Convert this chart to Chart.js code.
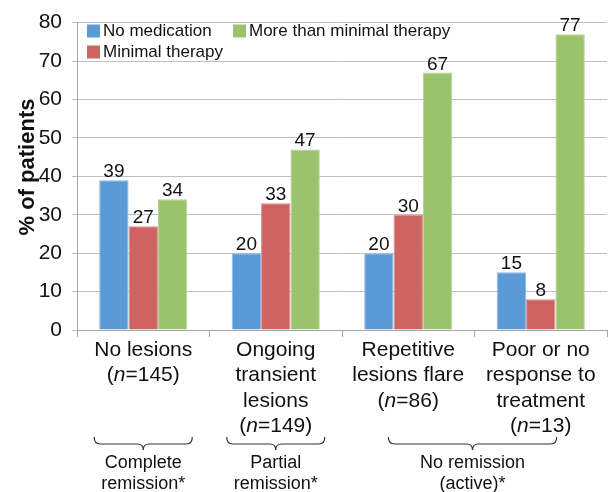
<!DOCTYPE html>
<html>
<head>
<meta charset="utf-8">
<script src="https://cdn.jsdelivr.net/npm/chart.js@4.4.0/dist/chart.umd.min.js"></script>
<style>
  html, body { margin: 0; padding: 0; background: #fff; }
  #wrap { width: 608px; height: 492px; }
</style>
</head>
<body>
<div id="wrap"><canvas id="barChart" width="608" height="492"></canvas></div>
<script>
// ---- data ----
var categories = [
  ["No lesions", "(n=145)"],
  ["Ongoing", "transient", "lesions", "(n=149)"],
  ["Repetitive", "lesions flare", "(n=86)"],
  ["Poor or no", "response to", "treatment", "(n=13)"]
];
var seriesNames = ["No medication", "Minimal therapy", "More than minimal therapy"];
var noMedication = [39, 20, 20, 15];
var minimalTherapy = [27, 33, 30, 8];
var moreThanMinimal = [34, 47, 67, 77];
var yTicks = [0, 10, 20, 30, 40, 50, 60, 70, 80];
var yTitle = "% of patients";
var groupLabels = [["Complete", "remission*"], ["Partial", "remission*"], ["No remission", "(active)*"]];
var groupFrom = [0, 1, 2];
var groupTo = [0, 1, 3];

// ---- styles ----
var FONT = "'Liberation Sans', Arial, sans-serif";
var colors = ["#5b9bd5", "#cd6461", "#9bc26c"];
var borders = ["#8ab8e6", "#dc8b88", "#b7d494"];
// brace extents, as fractions of a category width around the first / last category centre
var braceLeft = [-0.37, -0.37, -0.15];
var braceRight = [0.37, 0.37, 0.12];
// legend item placement (x of square, y of row centre)
var legendPos = [[87, 31], [87, 52], [233, 31]];

var extras = {
  id: "extras",
  afterDraw: function (chart) {
    var ctx = chart.ctx;
    var xs = chart.scales.x;
    var catW = xs.getPixelForValue(1) - xs.getPixelForValue(0);
    ctx.save();

    // value labels on top of the bars
    ctx.fillStyle = "#111";
    ctx.font = "19px " + FONT;
    ctx.textAlign = "center";
    ctx.textBaseline = "alphabetic";
    chart.data.datasets.forEach(function (ds, di) {
      chart.getDatasetMeta(di).data.forEach(function (bar, i) {
        ctx.fillText(String(ds.data[i]), bar.x, bar.y - 3);
      });
    });

    // category labels, with italic n
    ctx.textBaseline = "middle";
    ctx.textAlign = "left";
    var normal = "21px " + FONT, italic = "italic 21px " + FONT;
    categories.forEach(function (lines, i) {
      var cx = xs.getPixelForValue(i);
      lines.forEach(function (line, li) {
        var y = 350 + li * 25.5;
        var m = line.match(/^\((n)(=.*)$/);
        var parts = m ? [["(", normal], ["n", italic], [m[2], normal]] : [[line, normal]];
        var total = 0;
        parts.forEach(function (p) { ctx.font = p[1]; total += ctx.measureText(p[0]).width; });
        var x = cx - total / 2;
        parts.forEach(function (p) {
          ctx.font = p[1];
          ctx.fillText(p[0], x, y);
          x += ctx.measureText(p[0]).width;
        });
      });
    });

    // braces and group labels
    ctx.strokeStyle = "#333";
    ctx.lineWidth = 1.2;
    groupLabels.forEach(function (lab, g) {
      var x1 = xs.getPixelForValue(groupFrom[g]) + braceLeft[g] * catW;
      var x2 = xs.getPixelForValue(groupTo[g]) + braceRight[g] * catW;
      var xm = (x1 + x2) / 2;
      var top = 437, mid = 444, tip = 450, r = 6;
      ctx.beginPath();
      ctx.moveTo(x1, top);
      ctx.quadraticCurveTo(x1, mid, x1 + r, mid);
      ctx.lineTo(xm - r, mid);
      ctx.quadraticCurveTo(xm, mid, xm, tip);
      ctx.quadraticCurveTo(xm, mid, xm + r, mid);
      ctx.lineTo(x2 - r, mid);
      ctx.quadraticCurveTo(x2, mid, x2, top);
      ctx.stroke();
      ctx.font = "18px " + FONT;
      ctx.textAlign = "center";
      ctx.fillStyle = "#111";
      lab.forEach(function (t, li) { ctx.fillText(t, xm, 463 + li * 21); });
    });

    // legend
    ctx.font = "17px " + FONT;
    ctx.textAlign = "left";
    seriesNames.forEach(function (name, i) {
      var p = legendPos[i];
      ctx.fillStyle = colors[i];
      ctx.fillRect(p[0], p[1] - 6.5, 13, 13);
      ctx.fillStyle = "#111";
      ctx.fillText(name, p[0] + 16, p[1]);
    });

    // y axis title
    ctx.translate(28, 167);
    ctx.rotate(-Math.PI / 2);
    ctx.font = "bold 22px " + FONT;
    ctx.textAlign = "center";
    ctx.fillText(yTitle, 0, 0);
    ctx.restore();
  }
};

var barChartData = {
  labels: categories.map(function (c) { return c.join(" "); }),
  datasets: [noMedication, minimalTherapy, moreThanMinimal].map(function (d, i) {
    return {
      label: seriesNames[i],
      data: d,
      backgroundColor: colors[i],
      borderColor: borders[i],
      borderWidth: 1,
      barPercentage: 1,
      categoryPercentage: 0.665
    };
  })
};

var barChartOptions = {
  responsive: false,
  animation: false,
  devicePixelRatio: 1,
  layout: { padding: { top: 18, right: 1, left: 0, bottom: 0 } },
  plugins: { legend: { display: false }, tooltip: { enabled: false } },
  scales: {
    x: {
      ticks: { display: false },
      grid: { offset: true, drawOnChartArea: false, drawTicks: true, tickLength: 7, color: "#a6a6a6" },
      border: { color: "#a6a6a6" },
      afterFit: function (s) { s.height = 162; }
    },
    y: {
      min: 0,
      max: 80,
      afterBuildTicks: function (s) { s.ticks = yTicks.map(function (v) { return { value: v }; }); },
      ticks: { padding: 10, color: "#111", font: { family: FONT, size: 21 } },
      grid: { color: "#c0c0c0", tickLength: 5 },
      border: { color: "#a6a6a6" },
      afterFit: function (s) { s.width = 77; }
    }
  }
};

new Chart(document.getElementById("barChart").getContext("2d"), {
  type: "bar",
  data: barChartData,
  options: barChartOptions,
  plugins: [extras]
});
</script>
</body>
</html>
